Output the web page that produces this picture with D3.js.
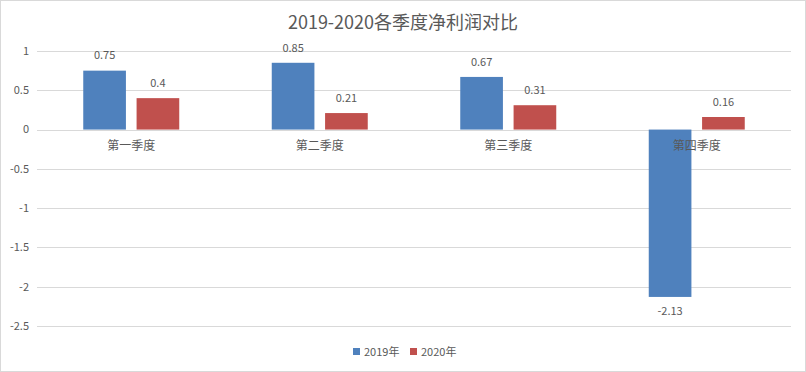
<!DOCTYPE html>
<html>
<head>
<meta charset="utf-8">
<script src="https://cdn.jsdelivr.net/npm/d3@7"></script>
<style>
  body { margin: 0; background: #fff; }
  text { font-family: "Noto Sans CJK SC", "Open Sans", sans-serif; fill: #595959; }
</style>
</head>
<body>
<svg id="chart"></svg>
<script>
const categories = ['第一季度', '第二季度', '第三季度', '第四季度'];
const seriesNames = ['2019年', '2020年'];
const values2019 = [0.75, 0.85, 0.67, -2.13];
const values2020 = [0.4, 0.21, 0.31, 0.16];
const yTicks = [1, 0.5, 0, -0.5, -1, -1.5, -2, -2.5];
const colors = ['#4F81BD', '#C0504D'];

const width = 806;
const height = 372;
const margin = {top: 51, right: 15, bottom: 46, left: 37};

const svg = d3.select('#chart')
    .attr('width', width)
    .attr('height', height);

// outer border
svg.append('rect')
    .attr('x', 0.5).attr('y', 0.5)
    .attr('width', width - 1).attr('height', height - 1)
    .attr('fill', '#fff')
    .attr('stroke', '#d9d9d9');

svg.append('text')
    .attr('x', width / 2)
    .attr('y', 29)
    .attr('text-anchor', 'middle')
    .style('font-size', '18px')
    .text('2019-2020各季度净利润对比');

const x = d3.scaleBand()
    .domain(categories)
    .range([margin.left, width - margin.right]);

// two bars of ~42px with an 11px gap, centred in each category
const groupW = 96;
const inner = d3.scaleBand()
    .domain(seriesNames)
    .range([(x.bandwidth() - groupW) / 2, (x.bandwidth() + groupW) / 2])
    .paddingInner(0.2);

const y = d3.scaleLinear()
    .domain([-2.5, 1])
    .range([326, 51]);

// gridlines
svg.append('g')
    .selectAll('line')
    .data(yTicks)
    .join('line')
    .attr('x1', margin.left)
    .attr('x2', width - margin.right)
    .attr('y1', d => Math.round(y(d)) + 0.5)
    .attr('y2', d => Math.round(y(d)) + 0.5)
    .attr('stroke', '#d9d9d9');

// y labels
svg.append('g')
    .selectAll('text')
    .data(yTicks)
    .join('text')
    .attr('x', 29)
    .attr('y', d => y(d))
    .attr('dy', '0.35em')
    .attr('text-anchor', 'end')
    .style('font-size', '11px')
    .text(d => d);

const rows = categories.flatMap((c, i) => [
    {cat: c, s: seriesNames[0], v: values2019[i], color: colors[0]},
    {cat: c, s: seriesNames[1], v: values2020[i], color: colors[1]}
]);

svg.append('g')
    .selectAll('rect')
    .data(rows)
    .join('rect')
    .attr('x', d => x(d.cat) + inner(d.s))
    .attr('width', inner.bandwidth())
    .attr('y', d => y(Math.max(0, d.v)))
    .attr('height', d => Math.abs(y(d.v) - y(0)))
    .attr('fill', d => d.color);

// category labels
svg.append('g')
    .selectAll('text')
    .data(categories)
    .join('text')
    .attr('x', d => x(d) + x.bandwidth() / 2)
    .attr('y', y(0) + 16)
    .attr('dy', '0.35em')
    .attr('text-anchor', 'middle')
    .style('font-size', '12px')
    .text(d => d);

// data labels
svg.append('g')
    .selectAll('text')
    .data(rows)
    .join('text')
    .attr('x', d => x(d.cat) + inner(d.s) + inner.bandwidth() / 2)
    .attr('y', d => d.v >= 0 ? y(d.v) - 15 : y(d.v) + 14)
    .attr('dy', '0.35em')
    .attr('text-anchor', 'middle')
    .style('font-size', '11px')
    .text(d => d.v);

// legend
const legend = svg.append('g').attr('transform', 'translate(353,352)');
const legendX = [0, 57];
seriesNames.forEach((name, i) => {
    const g = legend.append('g').attr('transform', `translate(${legendX[i]},0)`);
    g.append('rect')
        .attr('x', 0).attr('y', -4)
        .attr('width', 7).attr('height', 7)
        .attr('fill', colors[i]);
    g.append('text')
        .attr('x', 11)
        .attr('y', 0)
        .attr('dy', '0.35em')
        .style('font-size', '11px')
        .text(name);
});
</script>
</body>
</html>
